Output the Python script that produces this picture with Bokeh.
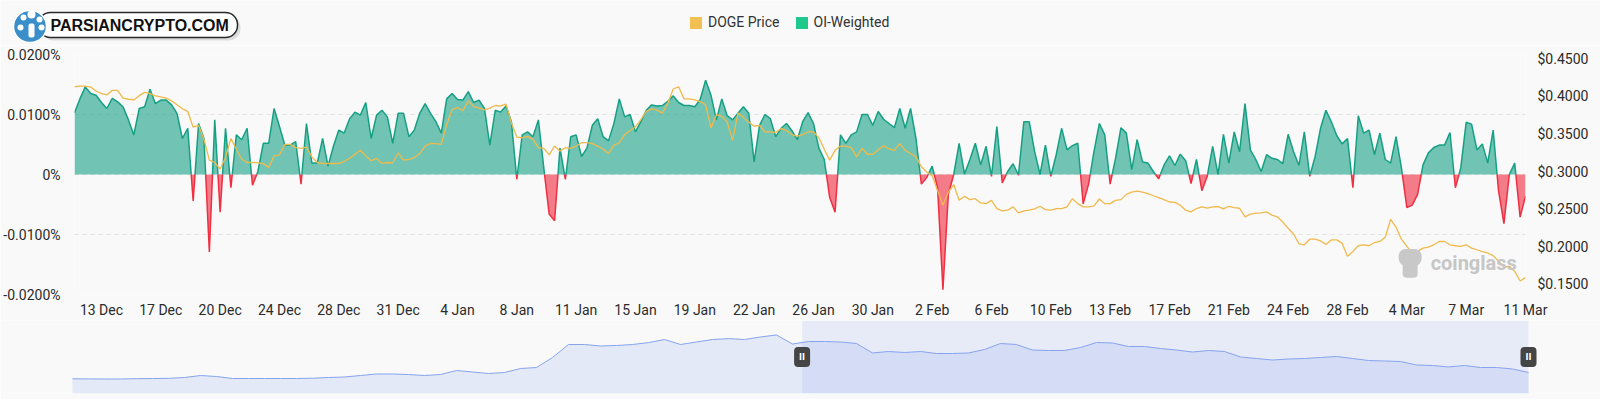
import numpy as np
from bokeh.plotting import figure
from bokeh.layouts import column
from bokeh.models import (Range1d, LinearAxis, FixedTicker, CustomJSTickFormatter,
                          PrintfTickFormatter, Legend, LegendItem, Label, BoxAnnotation)
from bokeh.embed import file_html
from bokeh.resources import INLINE
from bokeh.core.properties import value

# ---------------- data ----------------
# 8-hourly funding intervals, 11 Dec 2024 16:00 .. 11 Mar 2025; a date label every 11th point
X_LABELS = ["13 Dec", "17 Dec", "20 Dec", "24 Dec", "28 Dec", "31 Dec", "4 Jan", "8 Jan",
            "11 Jan", "15 Jan", "19 Jan", "22 Jan", "26 Jan", "30 Jan", "2 Feb", "6 Feb",
            "10 Feb", "13 Feb", "17 Feb", "21 Feb", "24 Feb", "28 Feb", "4 Mar", "7 Mar", "11 Mar"]
LABEL_FIRST = 5
LABEL_EVERY = 11

# OI-weighted funding rate, in percent
FUNDING = [
    0.0103, 0.0126, 0.0146, 0.0135, 0.0132, 0.0120, 0.0110, 0.0127, 0.0121, 0.0113,
    0.0091, 0.0066, 0.0110, 0.0113, 0.0142, 0.0118, 0.0124, 0.0124, 0.0116, 0.0102,
    0.0060, 0.0077, -0.0044, 0.0085, 0.0060, -0.0129, 0.0091, -0.0063, 0.0077, -0.0022,
    0.0066, 0.0058, 0.0077, -0.0018, 0.0005, 0.0052, 0.0052, 0.0110, 0.0080, 0.0049,
    0.0049, 0.0055, -0.0016, 0.0085, 0.0019, 0.0019, 0.0060, 0.0014, 0.0047, 0.0074,
    0.0069, 0.0093, 0.0104, 0.0099, 0.0120, 0.0060, 0.0099, 0.0107, 0.0096, 0.0052,
    0.0102, 0.0102, 0.0063, 0.0074, 0.0102, 0.0118, 0.0102, 0.0088, 0.0069, 0.0126,
    0.0135, 0.0125, 0.0124, 0.0138, 0.0120, 0.0124, 0.0110, 0.0049, 0.0107, 0.0104,
    0.0114, 0.0088, -0.0008, 0.0066, 0.0071, 0.0063, 0.0091, 0.0011, -0.0066, -0.0077,
    0.0044, -0.0008, 0.0063, 0.0066, 0.0030, 0.0044, 0.0082, 0.0093, 0.0063, 0.0056,
    0.0085, 0.0126, 0.0096, 0.0100, 0.0071, 0.0088, 0.0107, 0.0116, 0.0114, 0.0115,
    0.0122, 0.0131, 0.0120, 0.0115, 0.0115, 0.0113, 0.0125, 0.0157, 0.0132, 0.0091,
    0.0126, 0.0098, 0.0091, 0.0102, 0.0113, 0.0102, 0.0021, 0.0082, 0.0100, 0.0093,
    0.0063, 0.0077, 0.0085, 0.0073, 0.0058, 0.0088, 0.0103, 0.0085, 0.0044, 0.0025,
    -0.0038, -0.0063, 0.0066, 0.0052, 0.0066, 0.0071, 0.0100, 0.0100, 0.0082, 0.0105,
    0.0092, 0.0085, 0.0078, 0.0110, 0.0077, 0.0110, 0.0060, -0.0016, -0.0005, 0.0014,
    -0.0022, -0.0192, -0.0033, 0.0000, 0.0052, 0.0001, 0.0025, 0.0052, 0.0016, 0.0047,
    -0.0003, 0.0080, -0.0014, 0.0005, 0.0018, -0.0001, 0.0088, 0.0088, 0.0038, 0.0000,
    0.0049, -0.0003, 0.0033, 0.0077, 0.0041, 0.0048, 0.0052, -0.0049, -0.0016, 0.0038,
    0.0085, 0.0066, -0.0016, 0.0027, 0.0078, 0.0069, 0.0008, 0.0058, 0.0021, 0.0019,
    0.0005, -0.0007, 0.0016, 0.0031, 0.0015, 0.0034, 0.0023, -0.0015, 0.0025, -0.0027,
    -0.0003, 0.0047, 0.0000, 0.0067, 0.0019, 0.0071, 0.0038, 0.0118, 0.0041, 0.0025,
    0.0005, 0.0033, 0.0027, 0.0025, 0.0018, 0.0067, 0.0038, 0.0015, 0.0071, -0.0003,
    0.0030, 0.0077, 0.0107, 0.0088, 0.0065, 0.0051, 0.0060, -0.0022, 0.0098, 0.0069,
    0.0074, 0.0033, 0.0069, 0.0025, 0.0019, 0.0063, 0.0011, -0.0055, -0.0051, -0.0033,
    0.0016, 0.0036, 0.0045, 0.0049, 0.0049, 0.0070, -0.0022, 0.0011, 0.0087, 0.0084,
    0.0041, 0.0051, 0.0019, 0.0074, -0.0027, -0.0082, 0.0000, 0.0019, -0.0071, -0.0036,
]

# DOGE price, USD
PRICE = [
    0.4127, 0.4135, 0.4135, 0.4122, 0.4071, 0.4036, 0.4018, 0.4080, 0.4080, 0.3975,
    0.3961, 0.3952, 0.4009, 0.4053, 0.4036, 0.4005, 0.3992, 0.3975, 0.3940, 0.3887,
    0.3834, 0.3799, 0.3589, 0.3615, 0.3427, 0.3151, 0.3120, 0.3033, 0.3186, 0.3440,
    0.3296, 0.3164, 0.3120, 0.3120, 0.3116, 0.3107, 0.3055, 0.3208, 0.3221, 0.3361,
    0.3361, 0.3317, 0.3309, 0.3326, 0.3195, 0.3120, 0.3107, 0.3107, 0.3107, 0.3107,
    0.3133, 0.3177, 0.3230, 0.3282, 0.3208, 0.3142, 0.3177, 0.3107, 0.3120, 0.3116,
    0.3247, 0.3151, 0.3160, 0.3186, 0.3239, 0.3339, 0.3374, 0.3370, 0.3361, 0.3624,
    0.3821, 0.3852, 0.3808, 0.3940, 0.3865, 0.3843, 0.3821, 0.3843, 0.3878, 0.3874,
    0.3896, 0.3646, 0.3458, 0.3449, 0.3467, 0.3427, 0.3317, 0.3309, 0.3221, 0.3339,
    0.3274, 0.3317, 0.3309, 0.3339, 0.3383, 0.3383, 0.3370, 0.3339, 0.3296, 0.3239,
    0.3352, 0.3383, 0.3492, 0.3545, 0.3593, 0.3690, 0.3799, 0.3834, 0.3817, 0.3777,
    0.3909, 0.4097, 0.4127, 0.3966, 0.3966, 0.3952, 0.3930, 0.3887, 0.3580, 0.3755,
    0.3733, 0.3659, 0.3414, 0.3777, 0.3720, 0.3659, 0.3602, 0.3615, 0.3528, 0.3528,
    0.3519, 0.3571, 0.3545, 0.3492, 0.3471, 0.3492, 0.3528, 0.3528, 0.3449, 0.3296,
    0.3151, 0.3282, 0.3339, 0.3339, 0.3317, 0.3195, 0.3309, 0.3230, 0.3230, 0.3291,
    0.3344, 0.3300, 0.3282, 0.3370, 0.3282, 0.3239, 0.3195, 0.3064, 0.2994, 0.2946,
    0.2749, 0.2551, 0.2726, 0.2827, 0.2617, 0.2670, 0.2626, 0.2639, 0.2582, 0.2573,
    0.2617, 0.2508, 0.2477, 0.2486, 0.2530, 0.2451, 0.2477, 0.2486, 0.2503, 0.2538,
    0.2494, 0.2486, 0.2508, 0.2508, 0.2530, 0.2639, 0.2573, 0.2530, 0.2530, 0.2543,
    0.2635, 0.2573, 0.2573, 0.2617, 0.2626, 0.2696, 0.2726, 0.2740, 0.2726, 0.2705,
    0.2678, 0.2652, 0.2626, 0.2595, 0.2590, 0.2551, 0.2486, 0.2464, 0.2508, 0.2530,
    0.2512, 0.2530, 0.2534, 0.2503, 0.2538, 0.2521, 0.2512, 0.2398, 0.2433, 0.2447,
    0.2451, 0.2464, 0.2420, 0.2398, 0.2328, 0.2245, 0.2170, 0.2039, 0.2026, 0.2100,
    0.2100, 0.2078, 0.2030, 0.2091, 0.2091, 0.2048, 0.1872, 0.1938, 0.2013, 0.2026,
    0.2013, 0.2056, 0.2070, 0.2127, 0.2363, 0.2258, 0.2100, 0.2004, 0.1917, 0.1938,
    0.1982, 0.1995, 0.2026, 0.2070, 0.2070, 0.2026, 0.2013, 0.2004, 0.2026, 0.1982,
    0.1960, 0.1934, 0.1917, 0.1882, 0.1808, 0.1725, 0.1742, 0.1672, 0.1545, 0.1589,
]

FUNDING_TICKS = [-0.02, -0.01, 0, 0.01, 0.02]
PRICE_TICKS = [0.15, 0.20, 0.25, 0.30, 0.35, 0.40, 0.45]
PRICE_AXIS = (0.1365, 0.4556)

# navigator: longer DOGE price history (about every 2 days)
NAV_PRICE = [
    0.1025, 0.1016, 0.1008, 0.1008, 0.1033, 0.1050, 0.1067, 0.1135, 0.1305, 0.1220,
    0.1050, 0.1050, 0.1050, 0.1050, 0.1050, 0.1076, 0.1135, 0.1178, 0.1305, 0.1433,
    0.1433, 0.1390, 0.1305, 0.1390, 0.1730, 0.1603, 0.1475, 0.1560, 0.1900, 0.1985,
    0.2835, 0.3940, 0.3940, 0.3813, 0.3855, 0.3940, 0.4100, 0.4365, 0.3940, 0.4153,
    0.4365, 0.4440, 0.4365, 0.4580, 0.4750, 0.3980, 0.4195, 0.4195, 0.4150, 0.4025,
    0.3220, 0.3345, 0.3260, 0.3345, 0.3175, 0.3175, 0.3220, 0.3515, 0.4025, 0.3940,
    0.3470, 0.3430, 0.3430, 0.3685, 0.4110, 0.4070, 0.3770, 0.3770, 0.3600, 0.3470,
    0.3300, 0.3430, 0.3345, 0.2880, 0.2750, 0.2620, 0.2710, 0.2750, 0.2835, 0.2920,
    0.2750, 0.2580, 0.2540, 0.2495, 0.2200, 0.2155, 0.2030, 0.2155, 0.1985, 0.1985,
    0.1860, 0.1560,
]
NAV_WINDOW = [45.6, 91.0]
NAV_AXIS = (-0.0225, 0.598)

# ---------------- styles ----------------
BG = "#f9f9f9"
GREEN = "#15a084"
RED = "#ef2f42"
ORANGE = "#f0b94c"
LEG_ORANGE = "#f0c052"
LEG_GREEN = "#1ec98e"
TXT = "#2b2b2b"
FONT = "Roboto"
W = 1600


def no_align(fig):
    try:
        fig.frame_align = False
    except Exception:
        pass


N = len(FUNDING)
x = np.arange(N)
tick_idx = list(range(LABEL_FIRST, N, LABEL_EVERY))[:len(X_LABELS)]

# split into positive / negative parts at zero crossings (geometry for the fill colours)
xs, vs = [float(x[0])], [FUNDING[0]]
for i in range(1, N):
    a, b = FUNDING[i - 1], FUNDING[i]
    if (a > 0 > b) or (a < 0 < b):
        t = a / (a - b)
        xs.append(x[i - 1] + t)
        vs.append(0.0)
    xs.append(float(x[i]))
    vs.append(FUNDING[i])
xs = np.array(xs)
vs = np.array(vs)
pos_fill = np.maximum(vs, 0)
neg_fill = np.minimum(vs, 0)
pos_line = np.where(vs >= 0, vs, np.nan)
neg_line = np.where(vs <= 0, vs, np.nan)

# ---------------- header strip: logo + legend ----------------
HDR_H = 45
hdr = figure(width=W, height=HDR_H, x_range=Range1d(0, W), y_range=Range1d(0, HDR_H),
             output_backend="svg", toolbar_location=None,
             x_axis_location=None, y_axis_location=None, min_border=0,
             background_fill_color=BG, border_fill_color=BG, outline_line_color=None)
no_align(hdr)
hdr.xgrid.visible = False
hdr.ygrid.visible = False


def rbox(x0, y0, x1, y1, color, radius, line=None, lw=0):
    return BoxAnnotation(left=x0, right=x1, top=HDR_H - y0, bottom=HDR_H - y1,
                         fill_color=color, fill_alpha=1.0,
                         line_color=line, line_alpha=1.0 if line else 0, line_width=lw,
                         border_radius=int(round(radius)))


hdr.add_layout(rbox(41, 15, 240, 40, "#dddddd", 12))          # soft shadow
hdr.add_layout(rbox(38, 12, 237, 37, "white", 12, "#2a2a2a", 1.5))
hdr.add_layout(rbox(13, 10, 46, 42, "#3a8fca", 16, "white", 1.5))
for (cx, cy, r) in [(23, 17, 3), (31, 14, 4), (39, 19, 3), (20, 27, 3), (41, 27, 3)]:
    hdr.add_layout(rbox(cx - r, cy - r, cx + r, cy + r, "white", r))
hdr.add_layout(rbox(28, 23, 34, 37, "white", 2))
hdr.add_layout(Label(x=50, y=HDR_H - 25, text="PARSIANCRYPTO.COM", text_font="Liberation Sans",
                     text_font_style="bold", text_font_size="16px", text_color="#111111",
                     text_baseline="middle", text_align="left"))

# legend swatches: renderers placed outside the visible strip so only the legend shows them
r_leg1 = hdr.quad(left=[-20], right=[-10], top=[-20], bottom=[-30],
                  fill_color=LEG_ORANGE, line_color=None)
r_leg2 = hdr.quad(left=[-20], right=[-10], top=[-20], bottom=[-30],
                  fill_color=LEG_GREEN, line_color=None)
legend = Legend(items=[LegendItem(label="DOGE Price", renderers=[r_leg1]),
                       LegendItem(label="OI-Weighted", renderers=[r_leg2])],
                location=(688, 15), orientation="horizontal",
                glyph_width=15, glyph_height=15, label_standoff=5, spacing=14,
                padding=0, margin=0, border_line_color=None, background_fill_alpha=0,
                label_text_font=FONT, label_text_font_size="14px", label_text_color="#333333")
hdr.add_layout(legend)

# ---------------- main chart ----------------
p = figure(width=W, height=275, x_range=Range1d(0, N - 1), y_range=Range1d(-0.02, 0.02),
           output_backend="svg", toolbar_location=None,
           min_border_left=72, min_border_right=75, min_border_top=9, min_border_bottom=23,
           background_fill_color=BG, border_fill_color=BG, outline_line_color=None)
no_align(p)
p.extra_y_ranges = {"price": Range1d(*PRICE_AXIS)}

p.varea(x=xs, y1=0, y2=pos_fill, fill_color=GREEN, fill_alpha=0.6)
p.varea(x=xs, y1=0, y2=neg_fill, fill_color=RED, fill_alpha=0.62)
p.line(xs, pos_line, line_color=GREEN, line_width=1.5)
p.line(xs, neg_line, line_color=RED, line_width=1.5)
p.line(x, PRICE, y_range_name="price", line_color=ORANGE, line_width=1.3)

p.xaxis.ticker = FixedTicker(ticks=tick_idx)
p.xaxis.major_label_overrides = {i: l for i, l in zip(tick_idx, X_LABELS)}
p.yaxis.ticker = FixedTicker(ticks=FUNDING_TICKS)
p.yaxis.formatter = CustomJSTickFormatter(code="return tick == 0 ? '0%' : tick.toFixed(4) + '%';")
raxis = LinearAxis(y_range_name="price", ticker=FixedTicker(ticks=PRICE_TICKS),
                   formatter=PrintfTickFormatter(format="$%.4f"))
p.add_layout(raxis, "right")

for ax in [p.xaxis[0], p.yaxis[0], raxis]:
    ax.axis_line_color = None
    ax.major_tick_line_color = None
    ax.minor_tick_line_color = None
    ax.major_tick_out = 0
    ax.major_tick_in = 0
    ax.minor_tick_out = 0
    ax.major_label_text_font = FONT
    ax.major_label_text_color = TXT
    ax.major_label_text_font_size = "14px"
p.xaxis.major_label_standoff = 7
p.yaxis[0].major_label_standoff = 14
raxis.major_label_standoff = 12

p.xgrid.visible = False
p.ygrid.ticker = FixedTicker(ticks=FUNDING_TICKS)
p.ygrid.grid_line_color = "#e3e3e3"
p.ygrid.grid_line_dash = "4 4"

# coinglass watermark (page px -> data helpers; frame is 72..1525 x 54..297)
def dx(xp):
    return (xp - 72) * (N - 1) / 1453.0

def dy(yp):
    return 0.02 - (yp - 54) * 0.04 / 243.0

for (x0, y0, x1, y1, r) in [(1398, 251, 1421, 268, 7), (1402, 264, 1417, 280, 4)]:
    p.add_layout(BoxAnnotation(left=dx(x0), right=dx(x1), top=dy(y0), bottom=dy(y1),
                               fill_color="#c8c8c8", fill_alpha=1.0, line_alpha=0,
                               border_radius=r))
p.add_layout(Label(x=dx(1430), y=dy(265), text="coinglass", text_font=FONT,
                   text_font_style="bold", text_font_size="20px", text_color="#c6c6c6",
                   text_baseline="middle", text_align="left"))

# ---------------- navigator ----------------
nav = figure(width=W, height=79, x_range=Range1d(-4.5, 95.5), y_range=Range1d(*NAV_AXIS),
             output_backend="svg", toolbar_location=None,
             x_axis_location=None, y_axis_location=None,
             min_border_left=0, min_border_right=0, min_border_top=0, min_border_bottom=6,
             background_fill_color=BG, border_fill_color=BG, outline_line_color=None)
no_align(nav)
nav.xgrid.visible = False
nav.ygrid.visible = False
k = np.arange(len(NAV_PRICE))
nav.varea(x=k, y1=NAV_AXIS[0], y2=NAV_PRICE, fill_color="#e3e9f6")
nav.quad(left=[NAV_WINDOW[0]], right=[NAV_WINDOW[1]], bottom=[NAV_AXIS[0]], top=[NAV_AXIS[1]],
         fill_color="#6e8cf0", fill_alpha=0.12, line_color=None)
nav.line(k, NAV_PRICE, line_color="#86a3ef", line_width=1)
mid = (NAV_AXIS[0] + NAV_AXIS[1]) / 2
try:
    nav.rect(x=NAV_WINDOW, y=[mid, mid], width=16, height=20, width_units="screen",
             height_units="screen", fill_color="#454545", line_color=None, border_radius=4)
except Exception:
    nav.rect(x=NAV_WINDOW, y=[mid, mid], width=16, height=20, width_units="screen",
             height_units="screen", fill_color="#454545", line_color=None)
nav.text(x=NAV_WINDOW, y=[mid, mid], text=["II", "II"], text_color="white",
         text_font=value("DejaVu Sans"), text_font_size="8px", text_font_style="bold",
         text_align="center", text_baseline="middle")

layout = column(hdr, p, nav)
open("out.html", "w").write(file_html(layout, INLINE))
